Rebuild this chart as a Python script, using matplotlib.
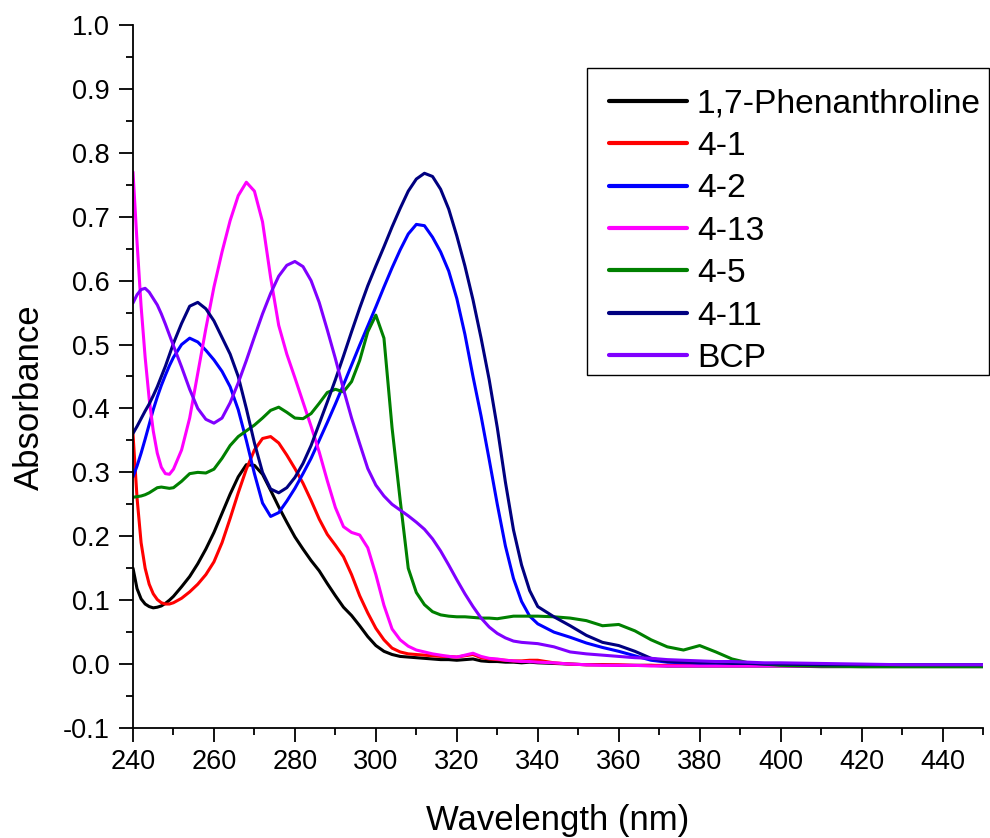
import matplotlib
matplotlib.use("Agg")
import matplotlib.pyplot as plt
from matplotlib.patches import Rectangle
from matplotlib.ticker import MultipleLocator, FormatStrFormatter

plt.rcParams['font.family'] = ['Liberation Sans', 'DejaVu Sans']

# wavelength grid (nm)
wavelength = ([240, 241, 242, 243, 244, 245, 246, 247, 248, 249, 250]
              + list(range(252, 341, 2))
              + list(range(344, 401, 4))
              + [410, 420, 430, 440, 450])

phenanthroline = [
    0.150, 0.118, 0.102, 0.094, 0.090, 0.088, 0.089, 0.091, 0.095, 0.100, 0.106,
    0.121, 0.137, 0.157, 0.180, 0.206, 0.236, 0.266, 0.293, 0.312, 0.311, 0.297,
    0.272, 0.246, 0.222, 0.199, 0.180, 0.162, 0.146, 0.126, 0.107, 0.089, 0.076,
    0.060, 0.043, 0.029, 0.020, 0.015, 0.012, 0.011, 0.010, 0.009, 0.008, 0.007,
    0.007, 0.006, 0.007, 0.008, 0.005, 0.004, 0.004, 0.003, 0.003, 0.002, 0.003,
    0.002,
    0.001, 0.000, -0.001, -0.001, -0.002, -0.002, -0.002, -0.003, -0.003, -0.003,
    -0.003, -0.003, -0.003, -0.003, -0.003,
    -0.004, -0.004, -0.004, -0.004, -0.004]

c4_1 = [
    0.360, 0.260, 0.190, 0.150, 0.125, 0.110, 0.101, 0.096, 0.094, 0.094, 0.096,
    0.103, 0.113, 0.125, 0.140, 0.160, 0.190, 0.228, 0.268, 0.305, 0.335, 0.353,
    0.356, 0.346, 0.327, 0.306, 0.283, 0.256, 0.227, 0.203, 0.186, 0.168, 0.140,
    0.107, 0.080, 0.056, 0.038, 0.025, 0.019, 0.016, 0.015, 0.014, 0.013, 0.012,
    0.012, 0.011, 0.013, 0.015, 0.010, 0.008, 0.007, 0.006, 0.005, 0.005, 0.006,
    0.006,
    0.002, 0.000, -0.001, -0.001, -0.001, -0.002, -0.002, -0.002, -0.002, -0.002,
    -0.002, -0.002, -0.002, -0.002, -0.002,
    -0.002, -0.002, -0.002, -0.002, -0.002]

c4_2 = [
    0.293, 0.310, 0.330, 0.352, 0.375, 0.398, 0.418, 0.436, 0.452, 0.467, 0.480,
    0.500, 0.510, 0.504, 0.491, 0.476, 0.458, 0.434, 0.398, 0.350, 0.298, 0.252,
    0.231, 0.237, 0.255, 0.275, 0.298, 0.322, 0.350, 0.378, 0.407, 0.437, 0.468,
    0.499, 0.529, 0.559, 0.590, 0.620, 0.648, 0.673, 0.688, 0.686, 0.668, 0.645,
    0.615, 0.572, 0.516, 0.450, 0.388, 0.320, 0.250, 0.185, 0.134, 0.098, 0.075,
    0.063,
    0.050, 0.042, 0.033, 0.026, 0.020, 0.013, 0.006, 0.003, 0.002, 0.001, 0.001,
    0.000, 0.000, -0.001, -0.001,
    -0.002, -0.002, -0.002, -0.002, -0.002]

c4_13 = [
    0.770, 0.660, 0.560, 0.480, 0.415, 0.365, 0.330, 0.308, 0.298, 0.297, 0.305,
    0.335, 0.385, 0.455, 0.525, 0.590, 0.645, 0.694, 0.733, 0.754, 0.740, 0.692,
    0.605, 0.530, 0.485, 0.448, 0.410, 0.372, 0.332, 0.287, 0.245, 0.215, 0.206,
    0.202, 0.182, 0.140, 0.092, 0.055, 0.038, 0.028, 0.022, 0.019, 0.016, 0.014,
    0.012, 0.011, 0.014, 0.017, 0.012, 0.009, 0.008, 0.006, 0.005, 0.004, 0.004,
    0.003,
    0.002, 0.000, -0.001, -0.002, -0.002, -0.002, -0.003, -0.003, -0.003, -0.003,
    -0.003, -0.003, -0.003, -0.003, -0.003,
    -0.003, -0.003, -0.003, -0.003, -0.003]

c4_5 = [
    0.261, 0.262, 0.263, 0.265, 0.268, 0.272, 0.276, 0.277, 0.276, 0.275, 0.276,
    0.286, 0.298, 0.300, 0.299, 0.305, 0.322, 0.342, 0.356, 0.365, 0.374, 0.385,
    0.397, 0.402, 0.394, 0.385, 0.384, 0.392, 0.408, 0.425, 0.430, 0.426, 0.442,
    0.475, 0.520, 0.546, 0.510, 0.370, 0.257, 0.150, 0.112, 0.093, 0.082, 0.077,
    0.075, 0.074, 0.074, 0.073, 0.072, 0.072, 0.071, 0.073, 0.075, 0.075, 0.075,
    0.075,
    0.074, 0.072, 0.068, 0.060, 0.062, 0.052, 0.038, 0.027, 0.022, 0.029, 0.019,
    0.008, 0.002, 0.000, -0.002,
    -0.003, -0.004, -0.004, -0.004, -0.004]

c4_11 = [
    0.361, 0.372, 0.384, 0.396, 0.407, 0.420, 0.434, 0.450, 0.466, 0.484, 0.502,
    0.533, 0.560, 0.566, 0.556, 0.537, 0.511, 0.485, 0.450, 0.400, 0.346, 0.300,
    0.274, 0.268, 0.276, 0.292, 0.314, 0.342, 0.376, 0.410, 0.445, 0.482, 0.520,
    0.557, 0.592, 0.623, 0.653, 0.684, 0.713, 0.740, 0.759, 0.768, 0.763, 0.743,
    0.712, 0.670, 0.623, 0.570, 0.510, 0.445, 0.370, 0.285, 0.210, 0.155, 0.115,
    0.090,
    0.074, 0.060, 0.045, 0.034, 0.029, 0.020, 0.009, 0.004, 0.003, 0.002, 0.002,
    0.001, 0.001, 0.000, 0.000,
    -0.001, -0.001, -0.001, -0.001, -0.001]

bcp = [
    0.565, 0.578, 0.586, 0.588, 0.582, 0.572, 0.562, 0.548, 0.532, 0.515, 0.498,
    0.465, 0.430, 0.400, 0.383, 0.377, 0.385, 0.409, 0.440, 0.475, 0.512, 0.548,
    0.580, 0.607, 0.624, 0.630, 0.622, 0.600, 0.566, 0.523, 0.478, 0.430, 0.385,
    0.345, 0.306, 0.280, 0.263, 0.250, 0.241, 0.232, 0.222, 0.211, 0.196, 0.177,
    0.155, 0.132, 0.110, 0.090, 0.072, 0.058, 0.048, 0.041, 0.036, 0.034, 0.033,
    0.032,
    0.027, 0.019, 0.016, 0.014, 0.012, 0.010, 0.009, 0.007, 0.006, 0.005, 0.004,
    0.004, 0.003, 0.002, 0.002,
    0.001, 0.000, -0.001, -0.001, -0.001]

series = [
    ("1,7-Phenanthroline", phenanthroline, "#000000"),
    ("4-1", c4_1, "#FF0000"),
    ("4-2", c4_2, "#0000FF"),
    ("4-13", c4_13, "#FF00FF"),
    ("4-5", c4_5, "#008000"),
    ("4-11", c4_11, "#000080"),
    ("BCP", bcp, "#8000FF"),
]

W, H = 990, 838
fig = plt.figure(figsize=(W / 100, H / 100), dpi=100)
ax = fig.add_axes([133 / W, 110 / H, 850 / W, 703 / H])

for label, values, color in series:
    ax.plot(wavelength, values, color=color, lw=2.2, label=label,
            solid_joinstyle='round', solid_capstyle='round')

ax.set_xlim(240, 450)
ax.set_ylim(-0.1, 1.0)

ax.xaxis.set_major_locator(MultipleLocator(20))
ax.xaxis.set_minor_locator(MultipleLocator(10))
ax.yaxis.set_major_locator(MultipleLocator(0.1))
ax.yaxis.set_minor_locator(MultipleLocator(0.05))
ax.yaxis.set_major_formatter(FormatStrFormatter('%.1f'))

for side in ('top', 'right'):
    ax.spines[side].set_visible(False)
for side in ('left', 'bottom'):
    ax.spines[side].set_linewidth(1.3)

ax.tick_params(which='major', direction='out', length=10, width=1.3,
               labelsize=19.5)
ax.tick_params(which='minor', direction='out', length=5, width=1.3)
ax.tick_params(axis='x', which='major', pad=5)
ax.tick_params(axis='y', which='major', pad=7)

ax.set_xlabel("Wavelength (nm)", fontsize=25)
ax.set_ylabel("Absorbance", fontsize=25)
ax.xaxis.set_label_coords(0.5, -0.108)
ax.yaxis.set_label_coords(-0.103, 0.47)

# legend entries without their own frame; a plain box is drawn around them
leg = ax.legend(loc='upper left', bbox_to_anchor=(0.5387, 0.936),
                borderaxespad=0, fontsize=24.2, frameon=False,
                handlelength=2.3, handletextpad=0.3,
                labelspacing=0.34, borderpad=0.55)
for line in leg.get_lines():
    line.set_linewidth(3.0)

box = Rectangle((587 / W, (H - 375) / H), 402 / W, 307 / H,
                transform=fig.transFigure, facecolor='white',
                edgecolor='black', linewidth=1.0, zorder=4)
fig.add_artist(box)
leg.set_zorder(5)
fig.add_artist(leg)

fig.savefig("out.png", dpi=100)
